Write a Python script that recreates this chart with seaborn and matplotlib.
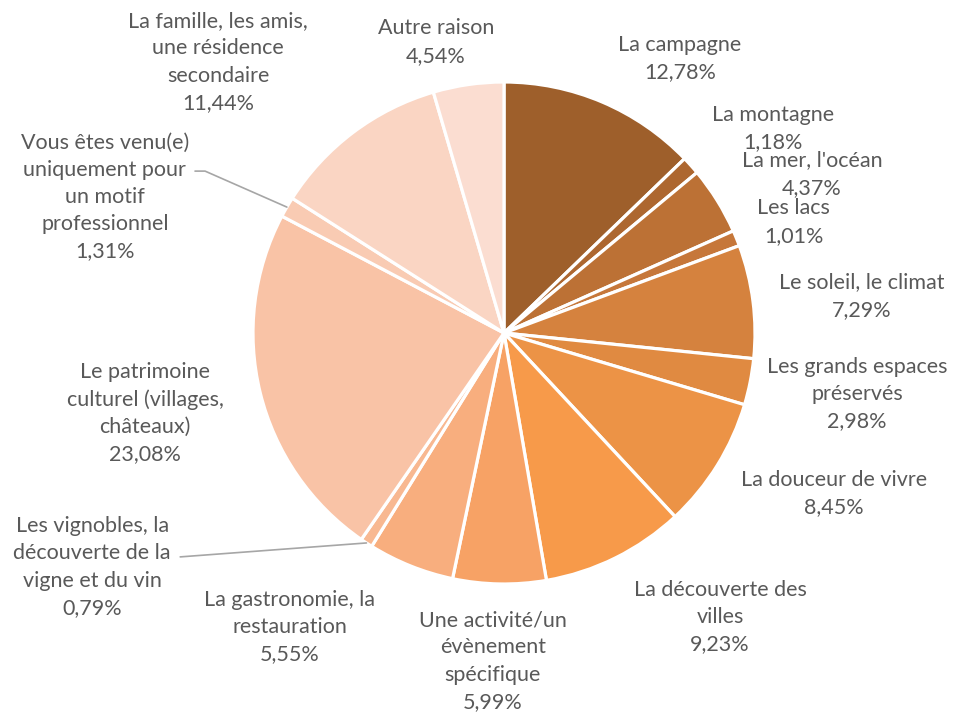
import numpy as np
import matplotlib
matplotlib.use("Agg")
import matplotlib.pyplot as plt
import seaborn as sns

sns.set_theme(style="white")
plt.rcParams["font.family"] = ["Lato", "DejaVu Sans"]

# Data
categories = [
    "La campagne", "La montagne", "La mer, l'océan", "Les lacs",
    "Le soleil, le climat", "Les grands espaces\npréservés",
    "La douceur de vivre", "La découverte des\nvilles",
    "Une activité/un\névènement\nspécifique",
    "La gastronomie, la\nrestauration",
    "Les vignobles, la\ndécouverte de la\nvigne et du vin",
    "Le patrimoine\nculturel (villages,\nchâteaux)",
    "Vous êtes venu(e)\nuniquement pour\nun motif\nprofessionnel",
    "La famille, les amis,\nune résidence\nsecondaire",
    "Autre raison",
]
shares = [12.78, 1.18, 4.37, 1.01, 7.29, 2.98, 8.45, 9.23, 5.99, 5.55,
          0.79, 23.08, 1.31, 11.44, 4.54]
slice_colors = ["#9E5F2B", "#AD6730", "#BC7135", "#C6773A", "#D5823E",
                "#E08A41", "#EC9346", "#F79A4A", "#F7A265", "#F8AE7E",
                "#F8B891", "#F9C3A6", "#F9CBB3", "#FAD5C3", "#FBDDD1"]

# Layout: label centres (axes data units, pie radius = 1)
label_pos = [(0.701, 1.092), (1.072, 0.813), (1.227, 0.633), (1.155, 0.442),
             (1.426, 0.147), (1.406, -0.243), (1.315, -0.641), (0.861, -1.131),
             (-0.044, -1.307), (-0.853, -1.171), (-1.641, -0.932),
             (-1.43, -0.319), (-1.590, 0.542), (-1.139, 1.080), (-0.271, 1.159)]

W, H, R, CX, CY = 962, 716, 251, 504, 333
fig = plt.figure(figsize=(W / 100, H / 100), dpi=100)
ax = fig.add_axes([0, 0, 1, 1])
palette = sns.color_palette(slice_colors)

wedges, _ = ax.pie(shares, colors=palette, startangle=90, counterclock=False,
                   radius=1, wedgeprops=dict(edgecolor="white", linewidth=2.3))

ax.set_xlim(-CX / R, (W - CX) / R)
ax.set_ylim(-(H - CY) / R, CY / R)
ax.set_aspect("equal")
ax.axis("off")

text_color = "#595959"
for name, val, (lx, ly) in zip(categories, shares, label_pos):
    pct = f"{val:.2f}".replace(".", ",") + "%"
    ax.text(lx, ly, f"{name}\n{pct}", ha="center", va="center",
            fontsize=15.5, color=text_color, linespacing=1.45)

# leader lines for the two tiny slices on the left
def wedge_point(idx, r=1.0):
    w = wedges[idx]
    ang = np.deg2rad((w.theta1 + w.theta2) / 2)
    return r * np.cos(ang), r * np.sin(ang)

px, py = wedge_point(10)
ax.plot([-1.29, px], [-0.892, py], color="#A6A6A6", lw=1.2)
px, py = wedge_point(12)
ax.plot([-1.231, -1.191, px], [0.645, 0.645, py], color="#A6A6A6", lw=1.2)

fig.savefig("out.png", dpi=100, facecolor="white")
